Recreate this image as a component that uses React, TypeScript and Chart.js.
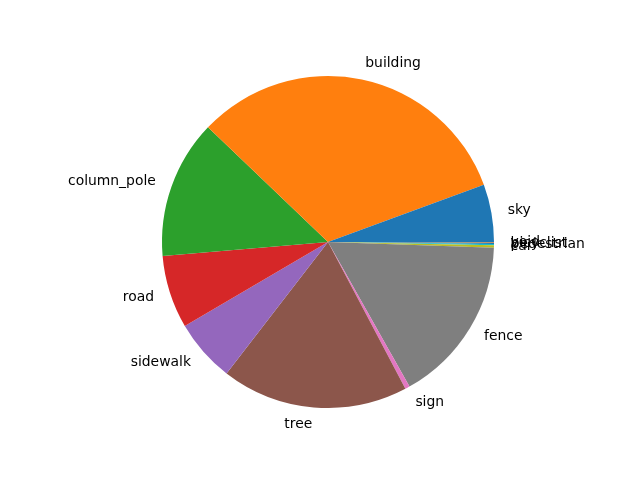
import React, { useEffect, useRef } from "react";
import { Chart, registerables } from "chart.js";

Chart.register(...registerables);

// Matplotlib order (counter-clockwise from 3 o'clock)
const categories = ["sky", "building", "column_pole", "road", "sidewalk", "tree", "sign", "fence", "car", "pedestrian", "bicyclist", "void"];
const shares = [5.6, 32.3, 13.5, 7.1, 6.1, 18.2, 0.45, 16.3, 0.25, 0.12, 0.12, 0.06];
const palette = ["#1f77b4", "#ff7f0e", "#2ca02c", "#d62728", "#9467bd", "#8c564b", "#e377c2", "#7f7f7f", "#bcbd22", "#17becf", "#1f77b4", "#ff7f0e"];

const FONT = "DejaVu Sans";

const outerLabels = {
  id: "outerLabels",
  afterDraw(chart: any) {
    const ctx = chart.ctx;
    const meta = chart.getDatasetMeta(0);
    const lbls = chart.data.labels as string[];
    ctx.save();
    ctx.font = `13.9px "${FONT}"`;
    ctx.fillStyle = "#000";
    ctx.textBaseline = "middle";
    meta.data.forEach((arc: any, i: number) => {
      const p = arc.getProps(["x", "y", "startAngle", "endAngle", "outerRadius"], true);
      const mid = (p.startAngle + p.endAngle) / 2;
      const c = Math.cos(mid);
      const s = Math.sin(mid);
      const x = p.x + 1.1 * p.outerRadius * c;
      const y = p.y + 1.1 * p.outerRadius * s;
      ctx.textAlign = c > 0 ? "left" : "right";
      ctx.fillText(lbls[i], x, y);
    });
    ctx.restore();
  },
};

export default function App() {
  const ref = useRef<HTMLCanvasElement>(null);
  useEffect(() => {
    if (!ref.current) return;
    // reverse so that Chart.js clockwise drawing mimics matplotlib counter-clockwise
    const labels = [...categories].reverse();
    const data = [...shares].reverse();
    const colors = [...palette].reverse();
    const chart = new Chart(ref.current, {
      type: "pie",
      data: {
        labels,
        datasets: [{ data, backgroundColor: colors, borderWidth: 0 }],
      },
      options: {
        responsive: false,
        animation: false,
        rotation: 90,
        layout: { padding: { left: 162, right: 146, top: 76, bottom: 72 } },
        plugins: { legend: { display: false }, tooltip: { enabled: false } },
      },
      plugins: [outerLabels],
    });
    return () => chart.destroy();
  }, []);
  return (
    <div style={{ position: "fixed", left: 0, top: 0, width: 640, height: 480, background: "#fff" }}>
      <canvas ref={ref} width={640} height={480} style={{ width: 640, height: 480 }} />
    </div>
  );
}
